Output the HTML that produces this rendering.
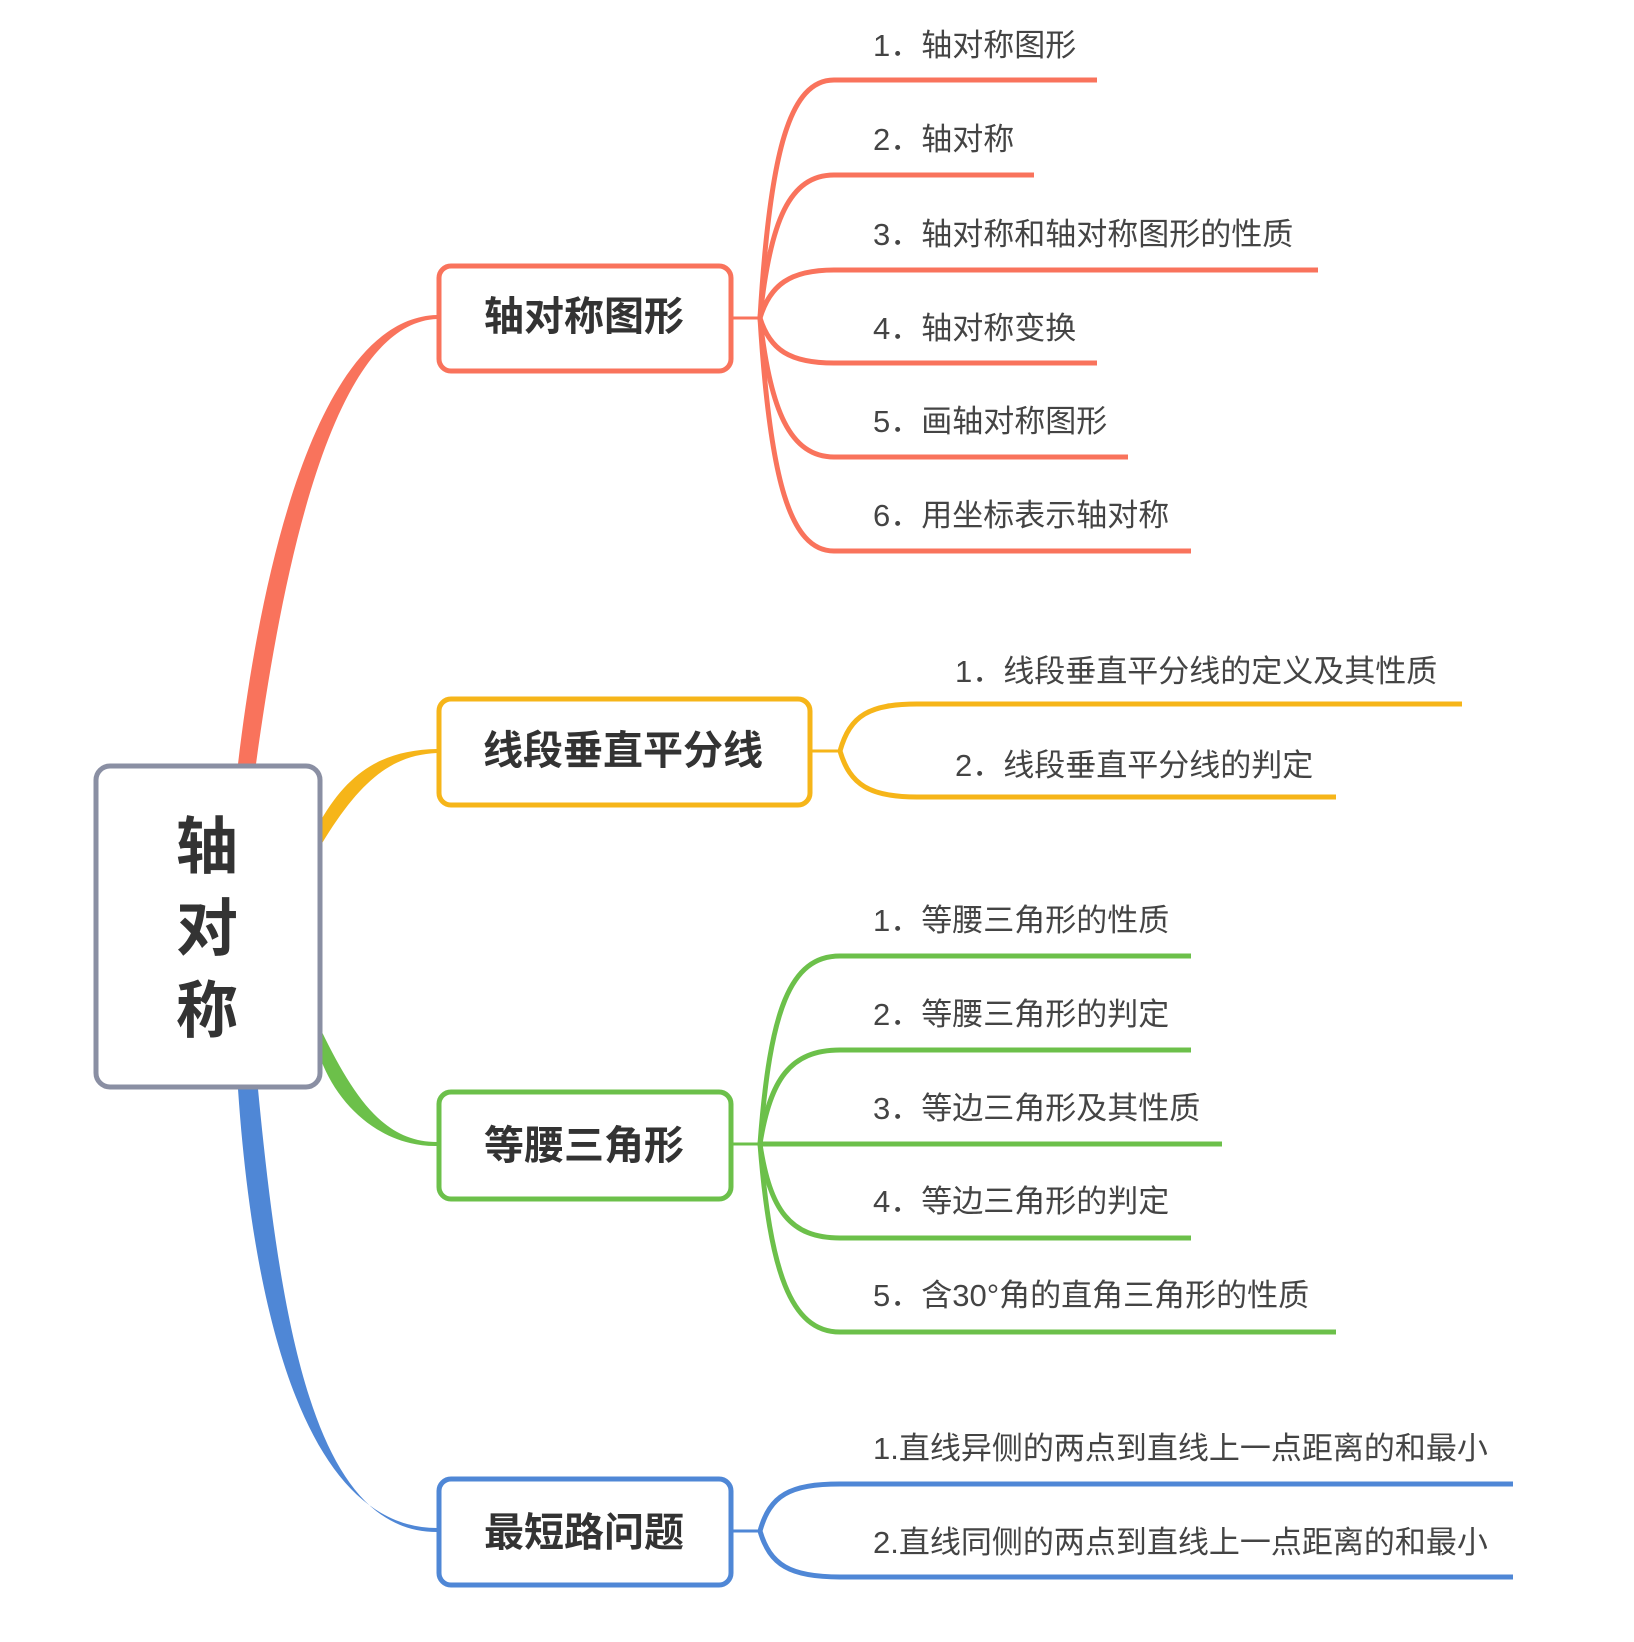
<!DOCTYPE html>
<html><head><meta charset="utf-8"><style>
html,body{margin:0;padding:0;background:#fff;}
svg{display:block;}
text{font-family:"Liberation Sans","Noto Sans CJK SC",sans-serif;}
.sub{font-size:31px;fill:#444;}
.main{font-size:40px;font-weight:bold;fill:#333;}
</style></head><body>
<svg width="1634" height="1642" viewBox="0 0 1634 1642" xmlns="http://www.w3.org/2000/svg">
<!-- main connectors (tapered) -->
<path d="M238,764 C262,560 320,318 437,315 L437,319 C334,323 284,560 256,764 Z" fill="#f9735c"/>
<path d="M321,820 C350,770 385,750 437,749 L437,753 C392,755 360,780 321,845 Z" fill="#f6b519"/>
<path d="M321,1030 C355,1100 385,1142 437,1142 L437,1146 C385,1147 340,1110 321,1060 Z" fill="#6cc04a"/>
<path d="M238,1089 C255,1340 315,1528 437,1528 L437,1532 C318,1532 282,1340 258,1089 Z" fill="#4f87d6"/>

<!-- center box -->
<rect x="96" y="766" width="224" height="321" rx="14" fill="#fff" stroke="#8a8fa3" stroke-width="5"/>
<text x="207" y="868" text-anchor="middle" font-size="62" font-weight="bold" fill="#333">轴</text>
<text x="207" y="950" text-anchor="middle" font-size="62" font-weight="bold" fill="#333">对</text>
<text x="207" y="1032" text-anchor="middle" font-size="62" font-weight="bold" fill="#333">称</text>

<!-- red -->
<g fill="none" stroke="#f9735c" stroke-width="5">
<rect x="439" y="266" width="292" height="105" rx="12"/>
<line x1="731" y1="318" x2="760" y2="318" stroke-width="3"/>
<path d="M760,318 C770,150 790,80 834,80 L1097,80"/>
<path d="M760,318 C770,220 790,175 834,175 L1034,175"/>
<path d="M760,318 C770,285 790,270 834,270 L1318,270"/>
<path d="M760,318 C770,350 790,363 834,363 L1097,363"/>
<path d="M760,318 C770,410 790,457 834,457 L1128,457"/>
<path d="M760,318 C770,480 790,551 834,551 L1191,551"/>
</g>
<text class="main" x="584" y="330" text-anchor="middle">轴对称图形</text>
<text class="sub" x="873" y="56">1．轴对称图形</text>
<text class="sub" x="873" y="150">2．轴对称</text>
<text class="sub" x="873" y="245">3．轴对称和轴对称图形的性质</text>
<text class="sub" x="873" y="339">4．轴对称变换</text>
<text class="sub" x="873" y="432">5．画轴对称图形</text>
<text class="sub" x="873" y="526">6．用坐标表示轴对称</text>

<!-- orange -->
<g fill="none" stroke="#f6b519" stroke-width="5">
<rect x="439" y="699" width="371" height="106" rx="12"/>
<line x1="810" y1="751" x2="840" y2="751" stroke-width="3"/>
<path d="M840,751 C850,715 870,704 917,704 L1462,704"/>
<path d="M840,751 C850,785 870,797 917,797 L1336,797"/>
</g>
<text class="main" x="623" y="764" text-anchor="middle">线段垂直平分线</text>
<text class="sub" x="955" y="682">1．线段垂直平分线的定义及其性质</text>
<text class="sub" x="955" y="776">2．线段垂直平分线的判定</text>

<!-- green -->
<g fill="none" stroke="#6cc04a" stroke-width="5">
<rect x="439" y="1092" width="292" height="107" rx="12"/>
<line x1="731" y1="1144" x2="760" y2="1144" stroke-width="3"/>
<path d="M760,1144 C770,1010 790,956 840,956 L1191,956"/>
<path d="M760,1144 C770,1080 790,1050 840,1050 L1191,1050"/>
<path d="M760,1144 L1222,1144"/>
<path d="M760,1144 C770,1210 790,1238 840,1238 L1191,1238"/>
<path d="M760,1144 C770,1270 790,1332 840,1332 L1336,1332"/>
</g>
<text class="main" x="584" y="1159" text-anchor="middle">等腰三角形</text>
<text class="sub" x="873" y="931">1．等腰三角形的性质</text>
<text class="sub" x="873" y="1025">2．等腰三角形的判定</text>
<text class="sub" x="873" y="1119">3．等边三角形及其性质</text>
<text class="sub" x="873" y="1212">4．等边三角形的判定</text>
<text class="sub" x="873" y="1306">5．含30°角的直角三角形的性质</text>

<!-- blue -->
<g fill="none" stroke="#4f87d6" stroke-width="5">
<rect x="439" y="1479" width="292" height="106" rx="12"/>
<line x1="731" y1="1531" x2="760" y2="1531" stroke-width="3"/>
<path d="M760,1531 C770,1495 790,1484 840,1484 L1513,1484"/>
<path d="M760,1531 C770,1565 790,1577 840,1577 L1513,1577"/>
</g>
<text class="main" x="584" y="1546" text-anchor="middle">最短路问题</text>
<text class="sub" x="873" y="1459">1.直线异侧的两点到直线上一点距离的和最小</text>
<text class="sub" x="873" y="1553">2.直线同侧的两点到直线上一点距离的和最小</text>
</svg>
</body></html>
